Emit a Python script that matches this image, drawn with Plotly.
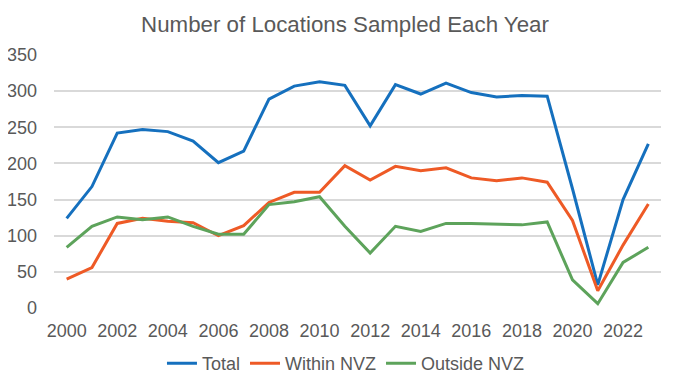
import plotly.graph_objects as go

years = list(range(2000, 2024))
total = [124, 168, 242, 247, 244, 231, 201, 217, 289, 307, 313, 308,
         252, 309, 296, 311, 298, 292, 294, 293, 165, 32, 150, 227]
within_nvz = [40, 56, 117, 124, 120, 118, 100, 114, 146, 160, 160, 197,
              177, 196, 190, 194, 180, 176, 180, 174, 121, 24, 87, 144]
outside_nvz = [84, 113, 126, 122, 126, 113, 102, 102, 143, 147, 154, 113,
               76, 113, 106, 117, 117, 116, 115, 119, 39, 6, 63, 84]
x_ticks = list(range(2000, 2023, 2))
y_ticks = list(range(0, 351, 50))

series = [("Total", total, "#1570BE"),
          ("Within NVZ", within_nvz, "#EE5A26"),
          ("Outside NVZ", outside_nvz, "#5DA35B")]

fig = go.Figure()
for name, vals, col in series:
    fig.add_trace(go.Scatter(x=years, y=vals, name=name, mode="lines",
                             line=dict(color=col, width=3)))

font_family = "Liberation Sans, Arial, sans-serif"
fig.update_layout(
    width=674, height=379,
    margin=dict(l=46, r=21, t=47, b=79, autoexpand=False),
    paper_bgcolor="white", plot_bgcolor="white",
    font=dict(family=font_family, size=18, color="#595959"),
    title=dict(text="Number of Locations Sampled Each Year",
               x=0.5, xanchor="center", y=0.957, yanchor="middle",
               font=dict(size=22.3, color="#595959")),
    showlegend=True,
    legend=dict(orientation="h", x=0.481, xanchor="center", y=-0.22, yanchor="middle",
                font=dict(size=18, color="#595959"), itemwidth=30,
                tracegroupgap=0),
    xaxis=dict(range=[1999.5, 2023.5], tickmode="array", tickvals=x_ticks,
               ticktext=[str(t) for t in x_ticks], showgrid=False,
               zeroline=False, showline=False, ticks="", ticklabelstandoff=10),
    yaxis=dict(range=[0, 350], tickmode="array", tickvals=y_ticks,
               showgrid=True, gridcolor="#D9D9D9", gridwidth=1.5,
               zeroline=False, showline=False, ticks="", ticklabelstandoff=16),
)

fig.write_html("out.html")
